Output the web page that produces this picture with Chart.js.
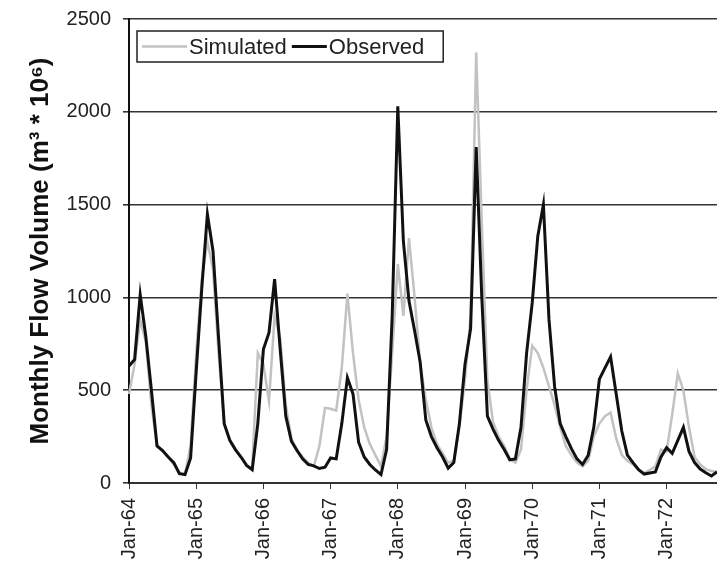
<!DOCTYPE html>
<html>
<head>
<meta charset="utf-8">
<script src="https://cdn.jsdelivr.net/npm/chart.js@4.4.1/dist/chart.umd.min.js"></script>
<style>
  body { margin: 0; background: #fff; }
  #wrap { width: 717px; height: 566px; position: relative; }
</style>
</head>
<body>
<div id="wrap"><canvas id="canvas"></canvas></div>
<script>
// data, monthly Jan-64 .. Oct-72
const years = ['64', '65', '66', '67', '68', '69', '70', '71', '72'];
const monthNames = ['Jan', 'Feb', 'Mar', 'Apr', 'May', 'Jun', 'Jul', 'Aug', 'Sep', 'Oct', 'Nov', 'Dec'];

const observed = [
  630, 665, 1015, 790, 500, 200, 175, 140, 110, 50, 45, 135,
  600, 1050, 1448, 1250, 780, 320, 230, 180, 140, 95, 72, 320,
  720, 810, 1098, 720, 360, 225, 175, 130, 100, 92, 78, 85,
  135, 130, 320, 567, 480, 220, 140, 100, 70, 45, 180, 900,
  2030, 1300, 980, 820, 650, 340, 250, 190, 140, 80, 110, 320,
  640, 830, 1810, 1000, 360, 290, 230, 180, 125, 130, 300, 700,
  970, 1330, 1500, 880, 520, 320, 250, 185, 130, 100, 150, 300,
  560, 620, 680, 480, 280, 150, 110, 72, 48, 54, 60, 140,
  190, 160, 230, 300, 170, 110, 75, 55, 38, 60
];

const simulated = [
  480, 640, 880, 760, 420, 200, 170, 140, 100, 55, 50, 200,
  700, 1100, 1300, 1150, 700, 320, 230, 180, 140, 95, 80, 700,
  640, 440, 900, 780, 420, 240, 180, 140, 110, 90, 200, 405,
  400, 390, 620, 1020, 700, 450, 300, 210, 150, 90, 250, 700,
  1180, 900, 1320, 1000, 640, 450, 300, 210, 160, 110, 120, 300,
  560, 900, 2320, 1400, 550, 330, 250, 200, 130, 110, 180, 500,
  740, 700, 620, 520, 420, 300, 200, 150, 110, 90, 120, 250,
  320, 360, 380, 240, 150, 120, 100, 70, 55, 70, 90, 180,
  170, 370, 590, 500, 300, 140, 100, 75, 65, 60
];

const yTicks = [0, 500, 1000, 1500, 2000, 2500];

// month labels built from the year list
const labels = [];
years.forEach(function (yr) {
  monthNames.forEach(function (m) {
    labels.push(m + '-' + yr);
  });
});
labels.length = observed.length;

const FONT = '"Liberation Sans", Arial, Helvetica, sans-serif';

// legend drawn inside the plot, top left, with a box round it
const legendBox = {
  id: 'legendBox',
  afterDraw(chart) {
    const ctx = chart.ctx;
    const area = chart.chartArea;
    const sets = chart.data.datasets;
    ctx.save();
    ctx.font = '22px ' + FONT;
    ctx.textBaseline = 'middle';
    const bx = area.left + 8;
    const by = area.top + 12;
    const bh = 31;
    const cy = by + bh / 2;
    let x = bx + 5;
    const lens = [45, 35];
    sets.forEach(function (ds, i) {
      ctx.strokeStyle = ds.borderColor;
      ctx.lineWidth = ds.borderWidth;
      ctx.beginPath();
      ctx.moveTo(x, cy);
      ctx.lineTo(x + lens[i], cy);
      ctx.stroke();
      x += lens[i] + 2;
      ctx.fillStyle = '#222';
      ctx.fillText(ds.label, x, cy + 1);
      x += ctx.measureText(ds.label).width + 5;
    });
    ctx.strokeStyle = '#222';
    ctx.lineWidth = 1.5;
    ctx.strokeRect(bx, by, x - bx + 14, bh);
    ctx.restore();
  }
};

const data = {
  labels: labels,
  datasets: [
    {
      label: 'Simulated',
      data: simulated,
      borderColor: '#c2c2c2',
      borderWidth: 2.5,
      order: 2,
    },
    {
      label: 'Observed',
      data: observed,
      borderColor: '#111',
      borderWidth: 3,
      order: 1,
    },
  ],
};

const config = {
  type: 'line',
  data,
  options: {
    responsive: true,
    maintainAspectRatio: false,
    animation: false,
    layout: { padding: { top: 19, right: 0, bottom: 0, left: 0 } },
    elements: {
      point: { radius: 0 },
      line: { tension: 0, borderJoinStyle: 'miter' },
    },
    plugins: {
      legend: { display: false },
      tooltip: { enabled: false },
    },
    scales: {
      x: {
        offset: false,
        afterFit: function (scale) {
          scale.height = 83;
          scale.paddingLeft = 0;
          scale.paddingRight = 0;
        },
        border: { color: '#333', width: 2 },
        grid: {
          drawOnChartArea: false,
          tickLength: 6,
          color: function (c) { return c.index % 12 === 0 ? '#333' : 'rgba(0,0,0,0)'; },
        },
        ticks: {
          autoSkip: false,
          maxRotation: 90,
          minRotation: 90,
          padding: 9,
          color: '#222',
          font: { family: FONT, size: 20 },
          callback: function (v, i) { return i % 12 === 0 ? labels[i] : ''; },
        },
      },
      y: {
        min: 0,
        max: 2500,
        afterFit: function (scale) {
          scale.width = 129;
          scale.paddingTop = 0;
          scale.paddingBottom = 0;
        },
        afterBuildTicks: function (scale) {
          scale.ticks = yTicks.map(function (v) { return { value: v }; });
        },
        border: { color: '#111', width: 2 },
        grid: { color: '#333', lineWidth: 1.6, tickLength: 6 },
        ticks: {
          padding: 12,
          color: '#222',
          font: { family: FONT, size: 20 },
          callback: function (v) { return String(v); },
        },
        title: {
          display: true,
          text: 'Monthly Flow Volume (m\u00B3 * 10\u2076)',
          color: '#111',
          padding: { top: 25, bottom: 0 },
          font: { family: FONT, size: 26, weight: 'bold' },
        },
      },
    },
  },
  plugins: [legendBox],
};

let myChart = new Chart(document.getElementById('canvas'), config);
</script>
</body>
</html>
